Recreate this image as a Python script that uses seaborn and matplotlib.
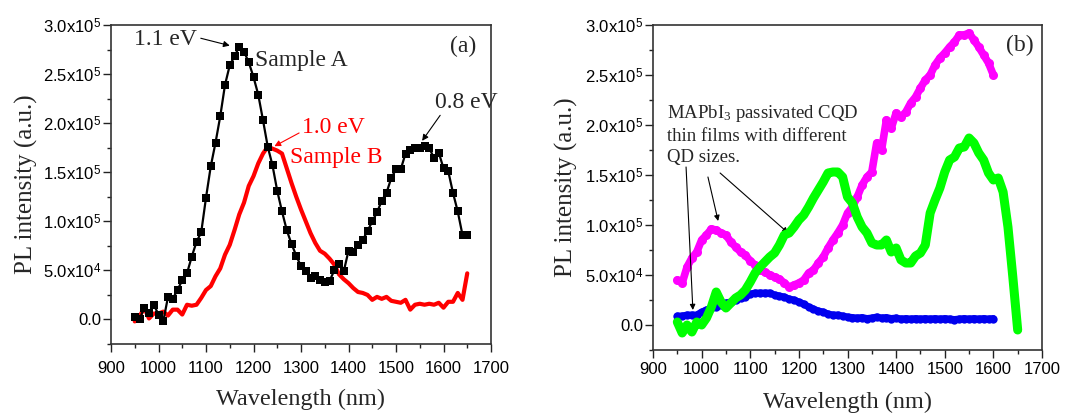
import numpy as np
import pandas as pd
import matplotlib
matplotlib.use("Agg")
import matplotlib.pyplot as plt
import seaborn as sns
from matplotlib.ticker import MultipleLocator, FixedLocator, FixedFormatter

# ---------------- data ----------------
wl_a = list(range(950, 1651, 10))
sample_a = [2000, 0, 12000, 7000, 15000, 5000, -2000, 23000, 21000, 30000,
            40000, 47000, 64000, 79000, 89000, 124000, 156000, 180000, 207000, 239000,
            259000, 268000, 278000, 273000, 262000, 247000, 229000, 203000, 176000, 157000,
            131000, 110000, 91000, 77000, 65000, 54000, 49000, 42000, 44000, 40000,
            38000, 39000, 50000, 56000, 49000, 70000, 69000, 76000, 81000, 90000,
            100000, 109000, 121000, 129000, 144000, 153000, 153000, 169000, 173000, 175000,
            175000, 177000, 175000, 164000, 170000, 154000, 151000, 129000, 110000, 86000,
            86000]
sample_b = [-2000, 3000, 12000, 1000, 6000, 6000, 8000, 4000, 10000, 10000,
            5000, 15000, 14000, 15000, 22000, 30000, 34000, 44000, 52000, 66000,
            76000, 91000, 107000, 119000, 136000, 146000, 159000, 169000, 176000, 174000,
            172000, 169000, 154000, 139000, 125000, 112000, 100000, 88000, 78000, 70000,
            67000, 62000, 56000, 46000, 41000, 37000, 32000, 28000, 27000, 25000,
            20000, 23000, 21000, 23000, 19000, 18000, 17000, 20000, 10000, 15000,
            16000, 15000, 16000, 15000, 17000, 12000, 18000, 18000, 27000, 20000,
            47000]

wl_m = list(range(950, 1601, 10))
magenta = [45000, 42000, 58000, 67000, 73000, 85000, 90000, 96000, 95000, 92000,
           90000, 83000, 78000, 73000, 70000, 64000, 60000, 55000, 53000, 50000,
           48000, 46000, 42000, 38000, 40000, 42000, 45000, 52000, 55000, 62000,
           68000, 77000, 85000, 92000, 100000, 112000, 118000, 128000, 140000, 148000,
           153000, 182000, 175000, 205000, 197000, 212000, 208000, 213000, 222000, 228000,
           237000, 245000, 250000, 260000, 267000, 272000, 278000, 283000, 290000, 290000,
           292000, 285000, 278000, 270000, 262000, 250000]

wl_g = list(range(950, 1651, 10))
green = [3000, -8000, 0, -7000, 3000, 0, 7000, 18000, 33000, 23000,
         17000, 22000, 27000, 30000, 35000, 43000, 52000, 58000, 63000, 68000,
         72000, 80000, 90000, 92000, 98000, 105000, 110000, 118000, 127000, 135000,
         143000, 152000, 153000, 153000, 148000, 128000, 122000, 108000, 98000, 92000,
         82000, 80000, 80000, 85000, 73000, 77000, 65000, 62000, 62000, 69000,
         72000, 80000, 112000, 125000, 137000, 153000, 165000, 168000, 177000, 178000,
         187000, 182000, 172000, 165000, 152000, 145000, 147000, 133000, 98000, 48000,
         -5000]

wl_bl = list(range(950, 1601, 10))
blue = [9000, 9000, 10000, 10000, 10000, 13000, 15000, 17000, 18000, 20000,
        22000, 23000, 25000, 27000, 28000, 31000, 32000, 32000, 32000, 32000,
        30000, 29000, 28000, 26000, 25000, 23000, 21000, 18000, 16000, 14000,
        13000, 11000, 10000, 10000, 9000, 8000, 7500, 7000, 7500, 6500,
        7000, 8000, 7000, 7500, 6500, 7000, 6000, 6500, 6000, 6500,
        6000, 6500, 6000, 6500, 6000, 6500, 6000, 5500, 6000, 6500,
        6000, 6500, 6000, 6500, 6000, 6500]

ytick_vals = [0, 50000, 100000, 150000, 200000, 250000, 300000]
ytick_labels = ["0.0", r"5.0x10$^{\mathsf{4}}$", r"1.0x10$^{\mathsf{5}}$", r"1.5x10$^{\mathsf{5}}$",
                r"2.0x10$^{\mathsf{5}}$", r"2.5x10$^{\mathsf{5}}$", r"3.0x10$^{\mathsf{5}}$"]
xtick_vals = [900, 1000, 1100, 1200, 1300, 1400, 1500, 1600, 1700]

# ---------------- style ----------------
sns.set_style("ticks")
plt.rcParams["font.family"] = ["Liberation Sans", "DejaVu Sans"]
plt.rcParams["mathtext.fontset"] = "custom"
plt.rcParams["mathtext.rm"] = "Liberation Serif"
plt.rcParams["mathtext.sf"] = "Liberation Sans"
plt.rcParams["mathtext.it"] = "Liberation Serif:italic"
SERIF = ["Liberation Serif", "DejaVu Serif"]

fig = plt.figure(figsize=(10.76, 4.16), dpi=100)
axA = fig.add_axes([111 / 1076, 1 - 344 / 416, 380 / 1076, 319 / 416])
axB = fig.add_axes([653 / 1076, 1 - 350 / 416, 389 / 1076, 325 / 416])

dfa = pd.DataFrame({"wl": wl_a, "A": sample_a, "B": sample_b})
sns.lineplot(data=dfa, x="wl", y="B", ax=axA, color="#ff0000", lw=3.0, zorder=2)
sns.lineplot(data=dfa, x="wl", y="A", ax=axA, color="black", lw=1.6, marker="s",
             markersize=6, markeredgewidth=0, zorder=3)

dfm = pd.DataFrame({"wl": wl_m, "v": magenta})
dfg = pd.DataFrame({"wl": wl_g, "v": green})
dfb = pd.DataFrame({"wl": wl_bl, "v": blue})
sns.lineplot(data=dfb, x="wl", y="v", ax=axB, color="#0000ee", lw=5, marker="o",
             markersize=6, markeredgewidth=0, zorder=2)
sns.lineplot(data=dfm, x="wl", y="v", ax=axB, color="#ff00ff", lw=5.5, marker="o",
             markersize=6.5, markeredgewidth=0, zorder=3)
sns.lineplot(data=dfg, x="wl", y="v", ax=axB, color="#00ff00", lw=6.5, zorder=4,
             solid_joinstyle="round", solid_capstyle="round")

for ax, xpad, xlp, ylp in ((axA, 7, 9, 4), (axB, 3.5, 10, 5)):
    ax.set_xlim(900, 1700)
    ax.set_ylim(-25000, 300000)
    ax.xaxis.set_major_locator(FixedLocator(xtick_vals))
    ax.xaxis.set_minor_locator(MultipleLocator(50))
    ax.yaxis.set_major_locator(FixedLocator(ytick_vals))
    ax.yaxis.set_major_formatter(FixedFormatter(ytick_labels))
    ax.yaxis.set_minor_locator(MultipleLocator(25000))
    ax.tick_params(axis="both", which="major", direction="out", length=5.5, width=1,
                   labelsize=12, colors="#222222", labelcolor="black")
    ax.tick_params(axis="both", which="minor", direction="out", length=3, width=1,
                   colors="#222222")
    ax.tick_params(axis="x", which="major", pad=xpad)
    ax.tick_params(axis="y", which="major", pad=1.5)
    ax.tick_params(top=False, right=False, which="both")
    for s in ax.spines.values():
        s.set_visible(True)
        s.set_linewidth(1.2)
        s.set_color("#333333")
    ax.set_xlabel("Wavelength (nm)", family=SERIF, fontsize=17.5, labelpad=xlp)
    ax.set_ylabel("PL intensity (a.u.)", family=SERIF, fontsize=18, labelpad=ylp)

# ---------------- annotations (a) ----------------
tk = dict(family=SERIF, fontsize=17)
arr = dict(arrowstyle="-|>", color="black", lw=0.8, mutation_scale=9, shrinkA=0, shrinkB=0)
axA.text(1614, 278000, "(a)", va="center", ha="left", **tk)
axA.annotate("", xy=(1150, 279000), xytext=(1089, 286500), arrowprops=arr)
axA.text(1014, 285000, "1.1 eV", va="center", ha="center", **tk)
axA.text(1204, 264000, "Sample A", va="center", ha="left", **tk)
arr_r = dict(arr, color="#ff0000")
axA.annotate("", xy=(1244, 176500), xytext=(1296, 190000), arrowprops=arr_r)
axA.text(1303, 195500, "1.0 eV", va="center", ha="left", color="#ff0000", **tk)
axA.text(1276, 164500, "Sample B", va="center", ha="left", color="#ff0000", **tk)
axA.annotate("", xy=(1555, 182000), xytext=(1593, 208000), arrowprops=arr)
axA.text(1582, 221000, "0.8 eV", va="center", ha="left", **tk)

# ---------------- annotations (b) ----------------
axB.text(1626, 280000, "(b)", va="center", ha="left", **tk)
axB.text(929, 190500, "MAPbI$_3$ passivated CQD\nthin films with different\nQD sizes.",
         va="center", ha="left", family=SERIF, fontsize=13.5, linespacing=1.3)
arr2 = dict(arrowstyle="-|>", color="black", lw=0.8, mutation_scale=8, shrinkA=0, shrinkB=0)
axB.annotate("", xy=(982, 15000), xytext=(968, 158000), arrowprops=arr2)
axB.annotate("", xy=(1034, 104000), xytext=(1013, 148000), arrowprops=arr2)
axB.annotate("", xy=(1178, 92000), xytext=(1038, 152000), arrowprops=arr2)

fig.savefig("out.png", dpi=100)
